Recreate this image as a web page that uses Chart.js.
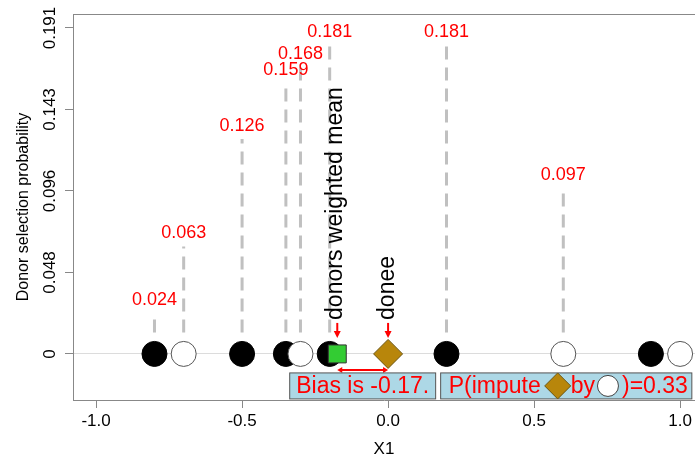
<!DOCTYPE html>
<html>
<head>
<meta charset="utf-8">
<script src="https://cdn.jsdelivr.net/npm/chart.js@4.4.0/dist/chart.umd.min.js"></script>
<style>
html, body { margin: 0; padding: 0; background: #fff; }
</style>
</head>
<body>
<canvas id="myChart" width="695" height="464"></canvas>
<script>
/*global Chart*/

// units on the X1 line
var blackX = [-0.8, -0.5, -0.35, -0.2, 0.2, 0.9];
var whiteX = [-0.7, -0.3, 0.6, 1.0];

// donors and their selection probability
var donorX = [-0.8, -0.7, -0.5, -0.35, -0.3, -0.2, 0.2, 0.6];
var donorProb = [0.024, 0.063, 0.126, 0.159, 0.168, 0.181, 0.181, 0.097];

var doneeX = 0.0;
var meanX = -0.174;
var biasText = "Bias is -0.17.";
var probText = ["P(impute", "by", ")=0.33"];

var xTicks = [-1, -0.5, 0, 0.5, 1];
var xTickLabels = ["-1.0", "-0.5", "0.0", "0.5", "1.0"];
var yTicks = [0, 0.04775, 0.0955, 0.14325, 0.191];
var yTickLabels = ["0", "0.048", "0.096", "0.143", "0.191"];

var FONT = "'Liberation Sans', Arial, sans-serif";
Chart.defaults.font.family = FONT;
Chart.defaults.color = "#000";

var stems = [];
donorX.forEach(function(x, i){
    stems.push({x: x, y: 0.0125});
    stems.push({x: x, y: donorProb[i]});
    stems.push({x: x, y: null});
});

function pts(arr){
    return arr.map(function(x){ return {x: x, y: 0}; });
}

function diamond(ctx, cx, cy, r){
    ctx.beginPath();
    ctx.moveTo(cx, cy - r);
    ctx.lineTo(cx + r, cy);
    ctx.lineTo(cx, cy + r);
    ctx.lineTo(cx - r, cy);
    ctx.closePath();
    ctx.fillStyle = "#b8860b";
    ctx.fill();
    ctx.strokeStyle = "#6b5512";
    ctx.lineWidth = 1;
    ctx.stroke();
}

function head(ctx, x, y, dx, dy, len, half){
    // arrow head with tip at x,y pointing in direction dx,dy
    var px = -dy, py = dx;
    ctx.beginPath();
    ctx.moveTo(x, y);
    ctx.lineTo(x - dx*len + px*half, y - dy*len + py*half);
    ctx.lineTo(x - dx*len - px*half, y - dy*len - py*half);
    ctx.closePath();
    ctx.fill();
}

var annotate = {
    id: "annotate",
    afterDatasetsDraw: function(chart){
        var ctx = chart.ctx;
        var xs = chart.scales.x, ys = chart.scales.y, area = chart.chartArea;
        ctx.save();

        // top side of the box
        ctx.strokeStyle = "#888";
        ctx.lineWidth = 1;
        ctx.beginPath();
        ctx.moveTo(area.left, Math.round(area.top) + 0.5);
        ctx.lineTo(area.right, Math.round(area.top) + 0.5);
        ctx.stroke();

        // rotated y tick labels
        ctx.fillStyle = "#000";
        ctx.font = "17px " + FONT;
        ctx.textAlign = "center";
        ctx.textBaseline = "middle";
        ys.ticks.forEach(function(t, i){
            ctx.save();
            ctx.translate(ys.right - 23, ys.getPixelForValue(t.value));
            ctx.rotate(-Math.PI / 2);
            ctx.fillText(yTickLabels[i], 0, 0);
            ctx.restore();
        });

        // probability labels
        ctx.fillStyle = "#ff0000";
        ctx.font = "18px " + FONT;
        donorX.forEach(function(x, i){
            ctx.fillText(donorProb[i].toFixed(3), xs.getPixelForValue(x), ys.getPixelForValue(donorProb[i]) - 13);
        });

        var y0 = ys.getPixelForValue(0);
        var xm = xs.getPixelForValue(meanX);
        var xd = xs.getPixelForValue(doneeX);

        // rotated captions
        ctx.fillStyle = "#000";
        ctx.font = "23px " + FONT;
        ctx.textAlign = "left";
        [[xm - 2, "donors weighted mean"], [xd, "donee"]].forEach(function(t){
            ctx.save();
            ctx.translate(t[0], y0 - 34);
            ctx.rotate(-Math.PI / 2);
            ctx.fillText(t[1], 0, 0);
            ctx.restore();
        });

        // red arrows
        ctx.strokeStyle = "#ff0000";
        ctx.fillStyle = "#ff0000";
        ctx.lineWidth = 2;
        [xm, xd].forEach(function(x){
            ctx.beginPath();
            ctx.moveTo(x, y0 - 31);
            ctx.lineTo(x, y0 - 21);
            ctx.stroke();
            head(ctx, x, y0 - 16, 0, 1, 7, 3.5);
        });
        var ya = y0 + 16;
        ctx.beginPath();
        ctx.moveTo(xm + 4, ya);
        ctx.lineTo(xd - 4, ya);
        ctx.stroke();
        head(ctx, xm, ya, -1, 0, 5, 3);
        head(ctx, xd, ya, 1, 0, 5, 3);

        // bias box
        ctx.font = "23px " + FONT;
        ctx.textBaseline = "middle";
        var bw = ctx.measureText(biasText).width + 13;
        var bh = 26;
        var bt = y0 + 19;
        var bl = (xm + xd) / 2 - bw / 2;
        ctx.fillStyle = "#add8e6";
        ctx.strokeStyle = "#555";
        ctx.lineWidth = 1;
        ctx.fillRect(bl, bt, bw, bh);
        ctx.strokeRect(bl, bt, bw, bh);
        ctx.fillStyle = "#ff0000";
        ctx.textAlign = "center";
        ctx.fillText(biasText, bl + bw / 2, bt + bh / 2 + 1);

        // probability box
        var l2 = bl + bw + 5;
        var w0 = ctx.measureText(probText[0]).width;
        var w1 = ctx.measureText(probText[1]).width;
        var w2 = ctx.measureText(probText[2]).width;
        var dcx = l2 + 8 + w0 + 17;
        var byx = dcx + 13;
        var ccx = byx + w1 + 13;
        var endx = ccx + 14;
        var w2box = endx + w2 + 4 - l2;
        ctx.fillStyle = "#add8e6";
        ctx.strokeStyle = "#555";
        ctx.fillRect(l2, bt, w2box, bh);
        ctx.strokeRect(l2, bt, w2box, bh);
        ctx.fillStyle = "#ff0000";
        ctx.textAlign = "left";
        ctx.fillText(probText[0], l2 + 8, bt + bh / 2 + 1);
        ctx.fillText(probText[1], byx, bt + bh / 2 + 1);
        ctx.fillText(probText[2], endx, bt + bh / 2 + 1);
        diamond(ctx, dcx, bt + bh / 2, 13);
        ctx.beginPath();
        ctx.arc(ccx, bt + bh / 2, 10.5, 0, Math.PI * 2);
        ctx.fillStyle = "#fff";
        ctx.fill();
        ctx.strokeStyle = "#444";
        ctx.stroke();

        ctx.restore();
    }
};

var ctx = document.getElementById("myChart");
var chart = new Chart(ctx, {
    type: "scatter",
    data: {
        datasets: [
            {
                label: "donee",
                data: [{x: doneeX, y: 0}],
                pointStyle: "rectRot",
                pointRadius: 14.5,
                backgroundColor: "#b8860b",
                borderColor: "#6b5512",
                borderWidth: 1,
                order: 1
            },
            {
                label: "weighted mean",
                data: [{x: meanX, y: 0}],
                pointStyle: "rect",
                pointRadius: 12.7,
                backgroundColor: "#33cc33",
                borderColor: "#333",
                borderWidth: 1,
                order: 2
            },
            {
                label: "white",
                data: pts(whiteX),
                pointRadius: 12.5,
                backgroundColor: "#fff",
                borderColor: "#555",
                borderWidth: 1,
                order: 3
            },
            {
                label: "black",
                data: pts(blackX),
                pointRadius: 12.5,
                backgroundColor: "#000",
                borderColor: "#000",
                borderWidth: 1,
                order: 4
            },
            {
                label: "stems",
                data: stems,
                showLine: true,
                spanGaps: false,
                pointRadius: 0,
                borderColor: "#c0c0c0",
                borderWidth: 3,
                borderDash: [13, 8],
                order: 10
            }
        ]
    },
    options: {
        responsive: false,
        animation: false,
        layout: { autoPadding: false, padding: { top: 14, left: 0, right: 0, bottom: 0 } },
        plugins: {
            legend: { display: false },
            tooltip: { enabled: false }
        },
        scales: {
            x: {
                type: "linear",
                min: -1.079,
                max: 1.051,
                afterFit: function(scale){ scale.height = 64; },
                afterBuildTicks: function(scale){
                    scale.ticks = xTicks.map(function(v){ return {value: v}; });
                },
                ticks: {
                    font: { size: 17 },
                    padding: 3,
                    maxRotation: 0,
                    callback: function(v, i){ return xTickLabels[i]; }
                },
                grid: { drawOnChartArea: false, tickColor: "#888", tickLength: 8 },
                border: { display: true, color: "#888" },
                title: { display: true, text: "X1", font: { size: 17 }, padding: { top: 4, bottom: 4 } }
            },
            y: {
                type: "linear",
                min: -0.027,
                max: 0.1992,
                afterFit: function(scale){ scale.width = 73; },
                afterBuildTicks: function(scale){
                    scale.ticks = yTicks.map(function(v){ return {value: v}; });
                },
                ticks: {
                    display: false,
                    callback: function(v, i){ return yTickLabels[i]; }
                },
                grid: {
                    color: function(c){ return c.tick && c.tick.value === 0 ? "#dcdcdc" : "rgba(0,0,0,0)"; },
                    tickColor: "#888",
                    tickLength: 8
                },
                border: { display: true, color: "#888" },
                title: { display: true, text: "Donor selection probability", font: { size: 16 }, padding: { top: 14, bottom: 0 } }
            }
        }
    },
    plugins: [annotate]
});
</script>
</body>
</html>
